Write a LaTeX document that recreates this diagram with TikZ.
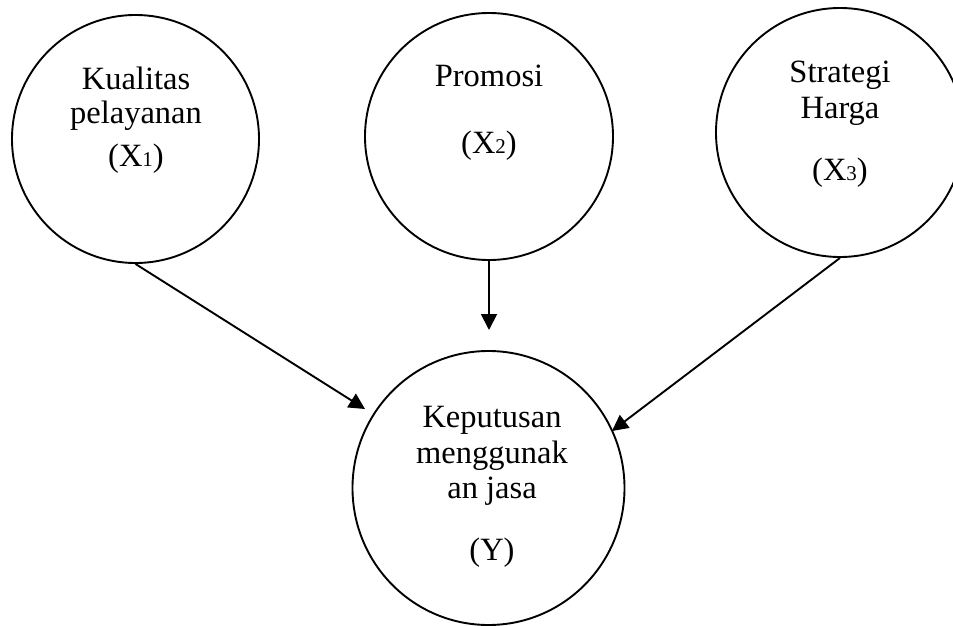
\documentclass[tikz,border=0pt]{standalone}
\usepackage{fontspec}
\setmainfont{Liberation Serif}
\usetikzlibrary{arrows.meta,shapes.geometric}
\newcommand{\sbx}[1]{{\fontsize{21}{21}\selectfont #1}}
\begin{document}
\begin{tikzpicture}[x=1pt,y=-1pt,
  circ/.style={draw,ellipse,line width=1.9pt,inner sep=0pt},
  txt/.style={anchor=base,inner sep=0pt,font=\fontsize{32.5}{35}\selectfont},
  arr/.style={line width=1.9pt,-{Triangle[length=16pt,width=16pt]}}]
\useasboundingbox (0,0) rectangle (953,626);
\clip (0,0) rectangle (953,626);
% circles
\node[circ,minimum width=247pt,minimum height=248pt] (x1) at (135.5,139) {};
\node[circ,minimum width=248pt,minimum height=247pt] (x2) at (489,136.5) {};
\node[circ,minimum width=248pt,minimum height=249pt] (x3) at (840,132.5) {};
\node[circ,minimum width=272pt,minimum height=274pt] (y) at (488.5,488) {};
% texts
\node[txt] (x1a) at (136,89) {Kualitas};
\node[txt] (x1b) at (136,123) {pelayanan};
\node[txt] (x1c) at (136,166) {(X\sbx{1})};
\node[txt] (x2a) at (489,86) {Promosi};
\node[txt] (x2c) at (489,153) {(X\sbx{2})};
\node[txt] (x3a) at (840,82) {Strategi};
\node[txt] (x3b) at (840,118) {Harga};
\node[txt] (x3c) at (840,180) {(X\sbx{3})};
\node[txt] (ya) at (492,427) {Keputusan};
\node[txt] (yb) at (492,463) {menggunak};
\node[txt] (yc) at (492,498) {an jasa};
\node[txt] (yd) at (492,560) {(Y)};
% arrow ends
\coordinate (t1) at (365,409);
\coordinate (t2) at (489,330);
\coordinate (t3) at (612,431);
\draw[arr] (x1.south) -- (t1);
\draw[arr] (x2.south) -- (t2);
\draw[arr] (x3.south) -- (t3);
\end{tikzpicture}
\end{document}
